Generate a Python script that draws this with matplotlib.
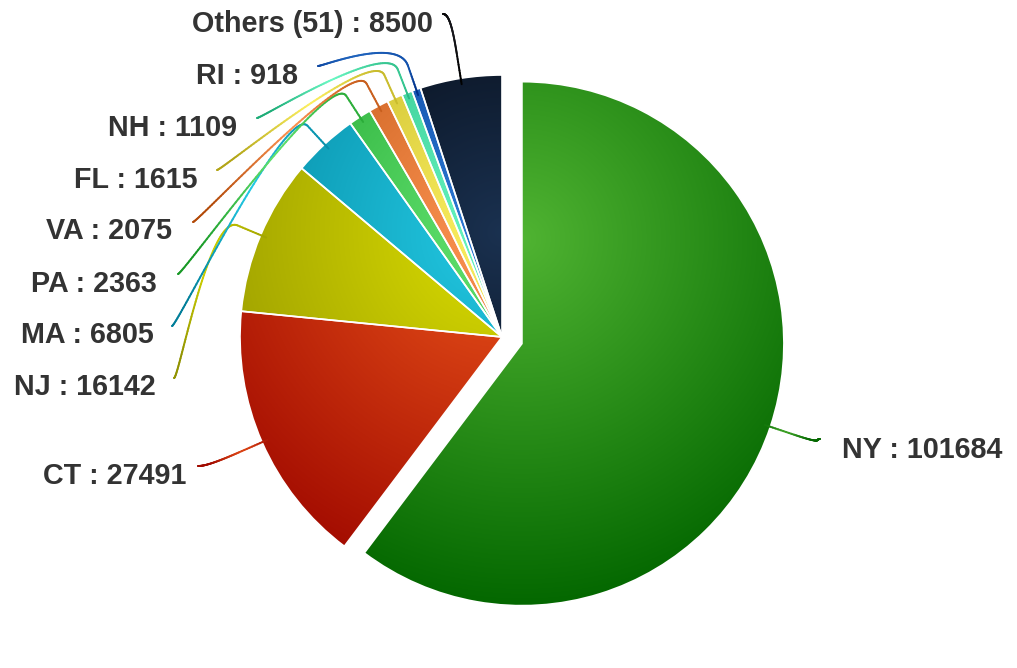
import numpy as np
import matplotlib
matplotlib.use("Agg")
import matplotlib.pyplot as plt
from matplotlib.collections import LineCollection
from matplotlib.colors import to_rgb

# data
states = ["NY", "CT", "NJ", "MA", "PA", "VA", "FL", "NH", "RI", "Others (51)"]
counts = [101684, 27491, 16142, 6805, 2363, 2075, 1615, 1109, 918, 8500]
colors = ["#50B432", "#ED561B", "#DDDF00", "#24CBE5", "#64E572",
          "#FF9655", "#FFF263", "#6AF9C4", "#2f7ed8", "#1a3150"]

# label layout in screen pixels (y down): connector end, text anchor
conn_end = [(820, 439), (198, 466), (174, 378), (172, 326), (178, 274),
            (193, 222), (217, 170), (257, 118), (318, 66), (443, 14)]
text_pos = [(842, 458), (186, 484), (156, 395), (154, 343), (157, 292),
            (172, 239), (198, 188), (237, 136), (298, 84), (433, 32)]

W, H = 1017, 668
R = 262
cx, cy = 502, H - 337
explode = [21, 0, 0, 0, 0, 0, 0, 0, 0, 0]

fig = plt.figure(figsize=(W / 100, H / 100), dpi=100)
ax = fig.add_axes([0, 0, 1, 1])

wedges, _ = ax.pie(counts, colors=colors, startangle=90, counterclock=False,
                   explode=explode, radius=R, center=(cx, cy), frame=True,
                   wedgeprops=dict(edgecolor="white", linewidth=1.2))


def darker(c):
    return np.clip(np.array(to_rgb(c)) - 0.3, 0, 1)


# radial gradient for each slice, referenced to the pie box (cx .5, cy .3, r .7)
gx = np.arange(W) + 0.5
gy = np.arange(H) + 0.5
XX, YY = np.meshgrid(gx, gy)
for w, c in zip(wedges, colors):
    ox, oy = w.center[0] - cx, w.center[1] - cy
    gcx, gcy = cx + ox, cy + 0.4 * R + oy
    t = np.clip(np.hypot(XX - gcx, YY - gcy) / (1.4 * R), 0, 1)
    c0 = np.array(to_rgb(c))
    c1 = darker(c)
    img = c0 + (c1 - c0) * t[..., None]
    im = ax.imshow(img, extent=(0, W, 0, H), origin="lower",
                   interpolation="bilinear", zorder=2)
    im.set_clip_path(w)
    w.set_facecolor("none")
    w.set_zorder(3)

# connectors (soft bezier like highcharts) with their own gradient
for i, w in enumerate(wedges):
    th = np.deg2rad((w.theta1 + w.theta2) / 2)
    d = np.array([np.cos(th), np.sin(th)])
    ctr = np.array(w.center)
    T = ctr + (R - 6) * d
    B = ctr + (R + 25) * d
    L = np.array([conn_end[i][0], H - conn_end[i][1]])
    side = -5 if i == 0 else 5
    P1 = L + np.array([side, 0])
    P2 = 2 * B - T
    s = np.linspace(0, 1, 80)[:, None]
    curve = ((1 - s) ** 3) * L + 3 * ((1 - s) ** 2) * s * P1 + 3 * (1 - s) * s ** 2 * P2 + s ** 3 * B
    seg = B + np.linspace(0, 1, 12)[1:, None] * (T - B)
    pts = np.vstack([curve, seg])
    x0, x1 = pts[:, 0].min(), pts[:, 0].max()
    y0, y1 = pts[:, 1].min(), pts[:, 1].max()
    bw, bh = max(x1 - x0, 1), max(y1 - y0, 1)
    mid = (pts[:-1] + pts[1:]) / 2
    tt = np.hypot((mid[:, 0] - (x0 + 0.5 * bw)) / bw,
                  (mid[:, 1] - (y1 - 0.3 * bh)) / bh) / 0.7
    tt = np.clip(tt, 0, 1)
    c0 = np.array(to_rgb(colors[i]))
    c1 = darker(colors[i])
    if i == 9:
        c0, c1 = np.array([0.1, 0.1, 0.12]), np.array([0.0, 0.0, 0.0])
    segcol = c0 + (c1 - c0) * tt[:, None]
    segs = np.stack([pts[:-1], pts[1:]], axis=1)
    ax.add_collection(LineCollection(segs, colors=segcol, linewidths=1.4,
                                     capstyle="round", zorder=4))

# labels
for i, (st, n) in enumerate(zip(states, counts)):
    tx, ty = text_pos[i]
    ax.text(tx, H - ty, f"{st} : {n}", ha="left" if i == 0 else "right",
            va="baseline", fontsize=20.7, fontweight="bold",
            family="Liberation Sans", color="#333333", zorder=5)

ax.set_xlim(0, W)
ax.set_ylim(0, H)
ax.set_aspect("equal")
ax.axis("off")

fig.savefig("out.png", dpi=100, facecolor="white")
